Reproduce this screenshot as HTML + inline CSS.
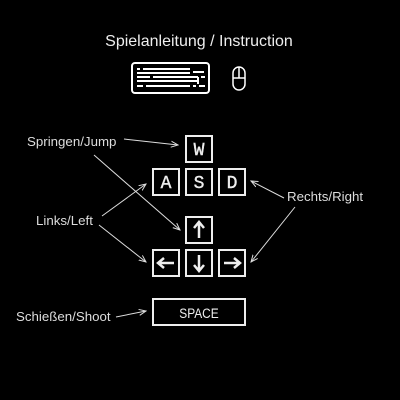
<!DOCTYPE html>
<html><head><meta charset="utf-8"><style>
html,body{margin:0;padding:0;background:#000;width:400px;height:400px;overflow:hidden}
svg{display:block}
.lbl{font-family:"Liberation Sans",sans-serif;font-size:13.3px;fill:#ddd}
.key{fill:none;stroke:#eee;stroke-width:2}
.kt{font-family:"Liberation Mono",monospace;font-size:18px;fill:#eee;text-anchor:middle;stroke:#eee;stroke-width:0.4}
.ar{stroke:#ddd;stroke-width:1;fill:none;marker-end:url(#ah)}
</style></head><body>
<svg width="400" height="400" viewBox="0 0 400 400">
<defs><marker id="ah" markerWidth="8" markerHeight="8" refX="7" refY="4" orient="auto" markerUnits="userSpaceOnUse"><path d="M0,1 L7,4 L0,7" fill="none" stroke="#ddd" stroke-width="1"/></marker></defs>
<text x="199" y="46" text-anchor="middle" font-family="Liberation Sans, sans-serif" font-size="16" fill="#eee">Spielanleitung / Instruction</text>
<g stroke="#fff" fill="none" stroke-width="2">
<rect x="132" y="63" width="77" height="30" rx="3"/>
<line x1="137" y1="69" x2="140" y2="69"/><line x1="143" y1="69" x2="190" y2="69"/>
<line x1="137" y1="73" x2="190" y2="73"/><line x1="193" y1="72" x2="204" y2="72"/>
<line x1="137" y1="77" x2="150" y2="77"/><line x1="153" y1="77" x2="198" y2="77"/><line x1="201" y1="77" x2="205" y2="77"/>
<line x1="137" y1="81" x2="198" y2="81"/><line x1="198" y1="77" x2="198" y2="84"/>
<line x1="137" y1="86" x2="143" y2="86"/><line x1="146" y1="86" x2="190" y2="86"/><line x1="193" y1="86" x2="196" y2="86"/><line x1="199" y1="86" x2="205" y2="86"/>
</g>
<g stroke="#fff" fill="none" stroke-width="1.5">
<rect x="233" y="67" width="12" height="23" rx="6"/><line x1="233" y1="78" x2="245" y2="78"/><line x1="239" y1="67" x2="239" y2="78"/>
</g>
<g><rect class="key" x="186" y="136" width="26" height="26"/><text class="kt" x="199" y="155">W</text></g>
<g><rect class="key" x="153" y="169" width="26" height="26"/><text class="kt" x="166" y="188">A</text></g>
<g><rect class="key" x="186" y="169" width="26" height="26"/><text class="kt" x="199" y="188">S</text></g>
<g><rect class="key" x="219" y="169" width="26" height="26"/><text class="kt" x="232" y="188">D</text></g>
<g><rect class="key" x="186" y="217" width="26" height="26"/><path d="M199,238 V223 M194,228 L199,222 L204,228" stroke="#eee" stroke-width="2.5" fill="none"/></g>
<g><rect class="key" x="153" y="250" width="26" height="26"/><path d="M174,263 H159 M164,258 L158,263 L164,268" stroke="#eee" stroke-width="2.5" fill="none"/></g>
<g><rect class="key" x="186" y="250" width="26" height="26"/><path d="M199,255 V270 M194,265 L199,271 L204,265" stroke="#eee" stroke-width="2.5" fill="none"/></g>
<g><rect class="key" x="219" y="250" width="26" height="26"/><path d="M224,263 H239 M234,258 L240,263 L234,268" stroke="#eee" stroke-width="2.5" fill="none"/></g>
<g><rect class="key" x="153" y="299" width="92" height="26"/><text x="199" y="318" text-anchor="middle" font-family="Liberation Sans, sans-serif" font-size="14" fill="#eee" transform="translate(199 0) scale(0.85 1) translate(-199 0)">SPACE</text></g>
<text class="lbl" x="27" y="146">Springen/Jump</text>
<text class="lbl" x="36" y="225">Links/Left</text>
<text class="lbl" x="287" y="201">Rechts/Right</text>
<text class="lbl" x="16" y="321">Schießen/Shoot</text>
<line class="ar" x1="124" y1="139" x2="178" y2="145"/>
<line class="ar" x1="94" y1="155" x2="180" y2="230"/>
<line class="ar" x1="102" y1="216" x2="146" y2="184"/>
<line class="ar" x1="99" y1="225" x2="146" y2="262"/>
<line class="ar" x1="284" y1="198" x2="251" y2="181"/>
<line class="ar" x1="295" y1="207" x2="251" y2="262"/>
<line class="ar" x1="116" y1="317" x2="146" y2="311"/>
</svg>
</body></html>
